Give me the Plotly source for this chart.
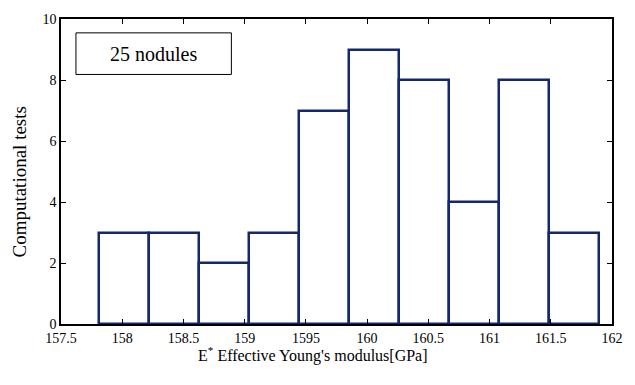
import plotly.graph_objects as go

bin_start = 157.81
bin_width = 0.408
counts = [3, 3, 2, 3, 7, 9, 8, 4, 8, 3]
x_tick_vals = [157.5, 158, 158.5, 159, 159.5, 160, 160.5, 161, 161.5, 162]
x_tick_text = ["157.5", "158", "158.5", "159", "1595", "160", "160.5", "161", "161.5", "162"]
y_tick_vals = [0, 2, 4, 6, 8, 10]

centers = [bin_start + bin_width * (i + 0.5) for i in range(len(counts))]

font = "Liberation Serif"
L, R, T, B = 61, 614, 16, 324
PW, PH = R - L, B - T

fig = go.Figure()
fig.add_trace(go.Bar(
    x=centers, y=counts, width=[bin_width] * len(counts),
    marker=dict(color="white", line=dict(color="#14286e", width=2.5)),
))

fig.update_layout(
    width=635, height=385,
    margin=dict(l=L, r=635 - R, t=T, b=385 - B),
    plot_bgcolor="white", paper_bgcolor="white",
    showlegend=False,
    font=dict(family=font, size=14, color="black"),
    xaxis=dict(range=[157.5, 162], tickvals=x_tick_vals, ticktext=x_tick_text,
               ticks="inside", ticklen=5, tickcolor="black", mirror="ticks",
               showline=True, linecolor="black", linewidth=1.5, showgrid=False, zeroline=False,
               tickfont=dict(size=14, family=font)),
    yaxis=dict(range=[0, 10], tickvals=y_tick_vals,
               ticks="inside", ticklen=5, tickcolor="black", mirror="ticks",
               showline=True, linecolor="black", linewidth=1.5, showgrid=False, zeroline=False,
               tickfont=dict(size=14, family=font)),
    bargap=0,
)

fig.add_annotation(xref="paper", yref="paper", x=(314 - L) / PW, y=(B - 355) / PH,
                   xanchor="center", yanchor="middle", showarrow=False,
                   text="E<sup>*</sup> Effective Young's modulus[GPa]",
                   font=dict(size=16, family=font))
fig.add_annotation(xref="paper", yref="paper", x=(19 - L) / PW, y=(B - 181) / PH,
                   xanchor="center", yanchor="middle", showarrow=False, textangle=-90,
                   text="Computational tests", font=dict(size=19, family=font))

fig.add_shape(type="rect", xref="paper", yref="paper",
              x0=(76 - L) / PW, x1=(232 - L) / PW,
              y0=(B - 72) / PH, y1=(B - 30) / PH,
              line=dict(color="black", width=1), fillcolor="white")
fig.add_annotation(xref="paper", yref="paper", x=(154 - L) / PW, y=(B - 51) / PH,
                   xanchor="center", yanchor="middle",
                   text="25 nodules", showarrow=False, font=dict(size=20, family=font))

fig.write_html("out.html", config={"displayModeBar": False},
               post_script="document.body.style.margin='0';")
